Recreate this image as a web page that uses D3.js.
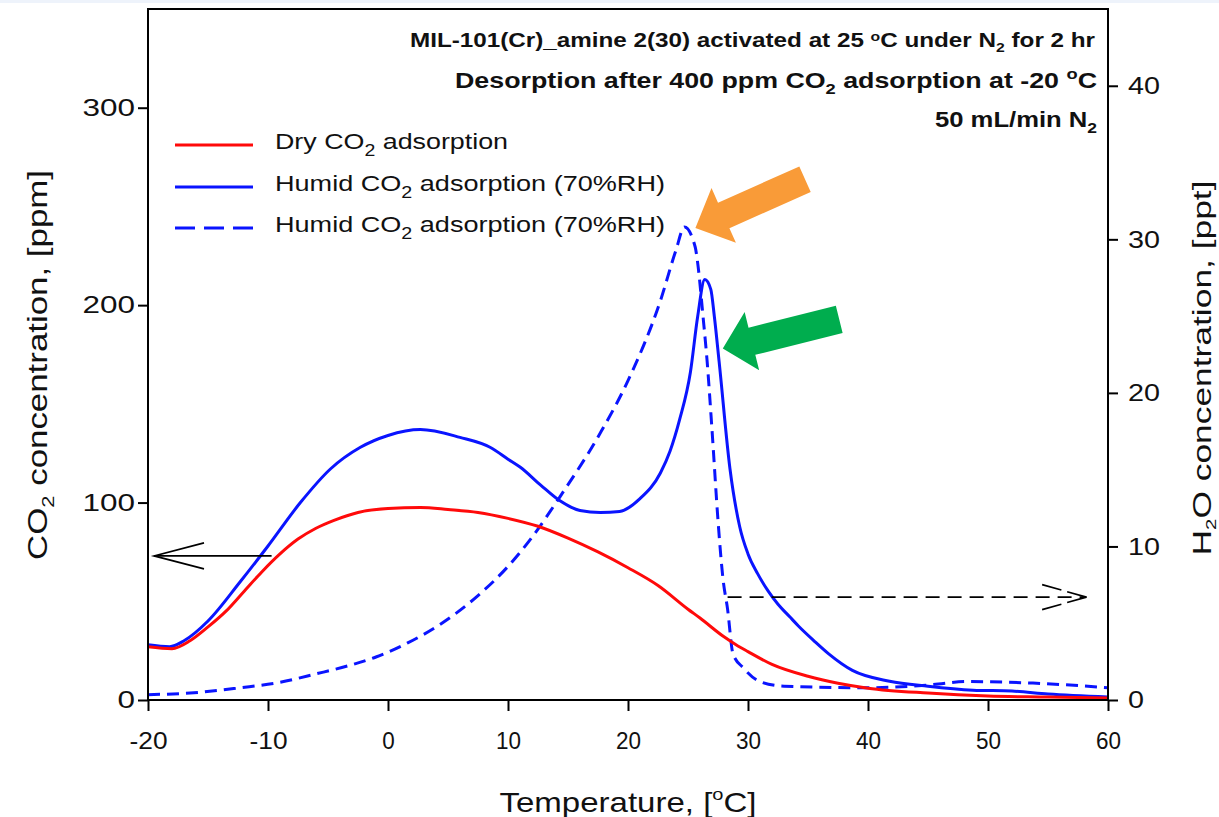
<!DOCTYPE html>
<html>
<head>
<meta charset="utf-8">
<script src="https://cdn.jsdelivr.net/npm/d3@7"></script>
<style>
  html, body { margin: 0; padding: 0; background: #ffffff; }
  svg { display: block; font-family: "Liberation Sans", Arial, sans-serif; }
</style>
</head>
<body>
<svg id="chart" width="1219" height="817"></svg>
<script>
// Dry CO2 desorption (left axis, ppm)
const dryTemp = [-20, -18, -16.5, -15, -13.5, -12, -10.5, -9, -7.5, -6, -4.5, -2.5, 0, 2.7, 5, 7.5, 10, 12.5, 15, 17.5, 20, 22.5, 25, 26, 28, 29, 30, 32, 35, 37.5, 40, 45, 50, 55, 60];
const dryCO2  = [27, 26, 30, 37, 45, 55, 65, 74, 81.5, 87, 91, 95, 97, 97.5, 96.5, 95, 92, 88, 82, 75, 67, 58, 46, 41.5, 32, 28, 24.5, 18, 12, 8.5, 6, 3.5, 2, 1.5, 1];

// Humid CO2 desorption (left axis, ppm)
const humidTemp = [-20, -18.2, -17, -15, -12.3, -10, -7.3, -4.8, -2.3, 0, 2.7, 6, 8.5, 10, 11, 12.7, 14.3, 16, 17.7, 19.3, 21, 22.7, 23.5, 24.3, 25.2, 25.8, 26.4, 26.9, 27.2, 27.6, 28.5, 29.3, 30, 30.8, 31.7, 32.5, 33.5, 34.2, 35.5, 36.7, 38.7, 41.8, 45, 48.75, 52, 55, 60];
const humidCO2  = [28, 27, 30, 40, 60, 78, 100, 117, 128, 134, 137, 133, 128, 122, 118, 109, 101, 96, 95, 95.5, 102, 115, 126, 142, 166, 194, 213, 208, 194, 171, 117, 88, 74, 64, 55, 48.5, 42, 37.5, 30, 23.5, 15, 9.5, 7, 5, 4.5, 3, 1.5];

// Water released from the humid run (right axis, ppt)
const waterTemp = [-20, -16.5, -12.3, -9, -6, -3, -1, 1.6, 4.3, 7.5, 10, 12, 14.3, 17.7, 20, 22.7, 24, 24.7, 25.6, 25.8, 26.25, 26.6, 27, 27.5, 27.9, 28.3, 28.75, 29.6, 31, 33, 40, 45.4, 48.25, 53.75, 60];
const waterH2O  = [0.35, 0.45, 0.8, 1.15, 1.7, 2.3, 2.8, 3.7, 4.9, 6.8, 8.7, 10.6, 13.2, 17.4, 20.8, 26, 29.3, 30.8, 29.5, 28.5, 25, 22, 17.6, 11.7, 8, 5.9, 3.0, 2.1, 1.2, 0.9, 0.8, 1.0, 1.2, 1.1, 0.8];

// Axis ticks
const xTicks = [-20, -10, 0, 10, 20, 30, 40, 50, 60];
const leftTicks = [0, 100, 200, 300];
const rightTicks = [0, 10, 20, 30, 40];

// Arrow annotations that point each curve to its axis
const leftArrow = { y: 73, from: -9.7, to: -19.5 };
const rightArrow = { y: 6.7, from: 28.3, to: 58.2 };

const svg = d3.select("#chart");
const W = 1219, H = 817;
const frame = { left: 148, right: 1108, top: 9, bottom: 700 };

svg.append("rect").attr("x", 0).attr("y", 0).attr("width", W).attr("height", 3).attr("fill", "#eef3fb");

const x = d3.scaleLinear().domain([-20, 60]).range([frame.left, frame.right]);
const yL = d3.scaleLinear().domain([0, 350]).range([frame.bottom, frame.top]);
const yR = d3.scaleLinear().domain([0, 45]).range([frame.bottom, frame.top]);

const zip = (a, b) => a.map((t, i) => [t, b[i]]);

// Curves
const lineL = d3.line().x(d => x(d[0])).y(d => yL(d[1])).curve(d3.curveMonotoneX);
const lineR = d3.line().x(d => x(d[0])).y(d => yR(d[1])).curve(d3.curveMonotoneX);

const curves = svg.append("g").attr("fill", "none").attr("stroke-linejoin", "round").attr("stroke-linecap", "butt");
curves.append("path").attr("d", lineR(zip(waterTemp, waterH2O)))
  .attr("stroke", "#0a14ff").attr("stroke-width", 3).attr("stroke-dasharray", "12,7");
curves.append("path").attr("d", lineL(zip(humidTemp, humidCO2)))
  .attr("stroke", "#0a14ff").attr("stroke-width", 3);
curves.append("path").attr("d", lineL(zip(dryTemp, dryCO2)))
  .attr("stroke", "#ff0a0a").attr("stroke-width", 3);

// Frame box
svg.append("rect")
  .attr("x", frame.left).attr("y", frame.top)
  .attr("width", frame.right - frame.left).attr("height", frame.bottom - frame.top)
  .attr("fill", "none").attr("stroke", "#000").attr("stroke-width", 2);

// Axes
const gx = svg.append("g").attr("transform", `translate(0,${frame.bottom})`)
  .call(d3.axisBottom(x).tickValues(xTicks).tickSize(11).tickPadding(21).tickFormat(d3.format("d")));
const gl = svg.append("g").attr("transform", `translate(${frame.left},0)`)
  .call(d3.axisLeft(yL).tickValues(leftTicks).tickSize(10).tickPadding(3).tickFormat(d3.format("d")));
const gr = svg.append("g").attr("transform", `translate(${frame.right},0)`)
  .call(d3.axisRight(yR).tickValues(rightTicks).tickSize(10).tickPadding(10).tickFormat(d3.format("d")));
[gx, gl, gr].forEach(g => {
  g.select(".domain").remove();
  g.selectAll(".tick line").attr("stroke", "#000").attr("stroke-width", 2);
  g.selectAll(".tick text").attr("font-size", 24).attr("fill", "#111")
    .attr("font-family", "'Liberation Sans', Arial, sans-serif")
    .attr("lengthAdjust", "spacingAndGlyphs");
});
gl.selectAll(".tick text").attr("textLength", d => String(d).length * 17.5);
gr.selectAll(".tick text").attr("textLength", d => String(d).length * 16);
gx.selectAll(".tick text").text(d => String(d))
  .attr("textLength", d => String(Math.abs(d)).length * 12.5 + (d < 0 ? 13 : 0));

// Axis titles
const xt = svg.append("text").attr("x", 628).attr("y", 812).attr("text-anchor", "middle")
  .attr("font-size", 28).attr("fill", "#111")
  .attr("textLength", 257).attr("lengthAdjust", "spacingAndGlyphs");
xt.append("tspan").text("Temperature, [");
xt.append("tspan").attr("font-size", 17).attr("dy", -12).text("o");
xt.append("tspan").attr("dy", 12).text("C]");

const ylt = svg.append("text").attr("transform", "translate(47,365) rotate(-90)")
  .attr("text-anchor", "middle").attr("font-size", 27).attr("fill", "#111")
  .attr("textLength", 390).attr("lengthAdjust", "spacingAndGlyphs");
ylt.append("tspan").text("CO");
ylt.append("tspan").attr("font-size", 17).attr("dy", 7).text("2");
ylt.append("tspan").attr("dy", -7).text(" concentration, [ppm]");

const yrt = svg.append("text").attr("transform", "translate(1211,368) rotate(-90)")
  .attr("text-anchor", "middle").attr("font-size", 26).attr("fill", "#111")
  .attr("textLength", 375).attr("lengthAdjust", "spacingAndGlyphs");
yrt.append("tspan").text("H");
yrt.append("tspan").attr("font-size", 15).attr("dy", 5).text("2");
yrt.append("tspan").attr("dy", -5).text("O concentration, [ppt]");

// Legend
const legend = [
  { label: "Dry CO", tail: " adsorption", color: "#ff0a0a", dash: null, y: 143, len: 233 },
  { label: "Humid CO", tail: " adsorption (70%RH)", color: "#0a14ff", dash: null, y: 185, len: 390 },
  { label: "Humid CO", tail: " adsorption (70%RH)", color: "#0a14ff", dash: "20,9", y: 226, len: 390 }
];
const lg = svg.append("g");
legend.forEach(d => {
  lg.append("line").attr("x1", 175).attr("x2", 253).attr("y1", d.y + 2).attr("y2", d.y + 2)
    .attr("stroke", d.color).attr("stroke-width", 3).attr("stroke-dasharray", d.dash);
  const t = lg.append("text").attr("x", 275).attr("y", d.y + 6).attr("font-size", 22).attr("fill", "#111")
    .attr("textLength", d.len).attr("lengthAdjust", "spacingAndGlyphs");
  t.append("tspan").text(d.label);
  t.append("tspan").attr("font-size", 16).attr("dy", 7).text("2");
  t.append("tspan").attr("dy", -7).text(d.tail);
});

// Conditions text, top right
const notes = svg.append("g").attr("font-weight", "bold").attr("fill", "#111").attr("text-anchor", "end");
const n1 = notes.append("text").attr("x", 1095).attr("y", 47).attr("font-size", 20)
  .attr("textLength", 685).attr("lengthAdjust", "spacingAndGlyphs");
n1.append("tspan").text("MIL-101(Cr)_amine 2(30) activated at 25 ");
n1.append("tspan").attr("font-size", 13).attr("dy", -6).text("o");
n1.append("tspan").attr("dy", 6).text("C under N");
n1.append("tspan").attr("font-size", 13).attr("dy", 5).text("2");
n1.append("tspan").attr("dy", -5).text(" for 2 hr");
const n2 = notes.append("text").attr("x", 1097).attr("y", 88).attr("font-size", 22)
  .attr("textLength", 642).attr("lengthAdjust", "spacingAndGlyphs");
n2.append("tspan").text("Desorption after 400 ppm CO");
n2.append("tspan").attr("font-size", 15).attr("dy", 6).text("2");
n2.append("tspan").attr("dy", -6).text(" adsorption at -20 ");
n2.append("tspan").attr("font-size", 15).attr("dy", -9).text("o");
n2.append("tspan").attr("dy", 9).text("C");
const n3 = notes.append("text").attr("x", 1097).attr("y", 127).attr("font-size", 22)
  .attr("textLength", 162).attr("lengthAdjust", "spacingAndGlyphs");
n3.append("tspan").text("50 mL/min N");
n3.append("tspan").attr("font-size", 15).attr("dy", 6).text("2");

// Axis pointer arrows
const ay = yL(leftArrow.y);
const ax0 = x(leftArrow.from), ax1 = x(leftArrow.to);
const la = svg.append("g").attr("stroke", "#000").attr("stroke-width", 1.6).attr("fill", "none");
la.append("line").attr("x1", ax0).attr("x2", ax1).attr("y1", ay).attr("y2", ay);
la.append("polyline").attr("points", `${ax1 + 50},${ay - 13} ${ax1},${ay} ${ax1 + 50},${ay + 13}`);

const ry = yR(rightArrow.y);
const rx0 = x(rightArrow.from), rx1 = x(rightArrow.to);
const ra = svg.append("g").attr("stroke", "#000").attr("stroke-width", 1.6).attr("fill", "none");
ra.append("line").attr("x1", rx0).attr("x2", rx1).attr("y1", ry).attr("y2", ry).attr("stroke-dasharray", "14,8");
ra.append("line").attr("x1", rx1).attr("y1", ry).attr("x2", rx1 - 46).attr("y2", ry - 13).attr("stroke-dasharray", "20,6");
ra.append("line").attr("x1", rx1).attr("y1", ry).attr("x2", rx1 - 46).attr("y2", ry + 13).attr("stroke-dasharray", "20,6");

// Block arrows marking the two peaks
function blockArrow(tipX, tipY, angleDeg, len, shaft, head, headLen, color) {
  const a = angleDeg * Math.PI / 180;
  const ux = Math.cos(a), uy = Math.sin(a);       // direction from tip toward tail
  const px = -uy, py = ux;                        // perpendicular
  const hb = [tipX + ux * headLen, tipY + uy * headLen];
  const tail = [tipX + ux * len, tipY + uy * len];
  const pts = [
    [tipX, tipY],
    [hb[0] + px * head, hb[1] + py * head],
    [hb[0] + px * shaft, hb[1] + py * shaft],
    [tail[0] + px * shaft, tail[1] + py * shaft],
    [tail[0] - px * shaft, tail[1] - py * shaft],
    [hb[0] - px * shaft, hb[1] - py * shaft],
    [hb[0] - px * head, hb[1] - py * head]
  ];
  svg.append("polygon").attr("points", pts.map(p => p.join(",")).join(" ")).attr("fill", color);
}
const waterPeak = waterH2O.indexOf(d3.max(waterH2O));
const humidPeak = humidCO2.indexOf(d3.max(humidCO2));
blockArrow(x(waterTemp[waterPeak]) + 11, yR(waterH2O[waterPeak]) + 1, -24, 120, 14, 30, 31, "#f99b38");
blockArrow(x(humidTemp[humidPeak]) + 18, yL(humidCO2[humidPeak]) + 69, -14, 120, 14, 30, 30, "#00ad4e");
</script>
</body>
</html>
